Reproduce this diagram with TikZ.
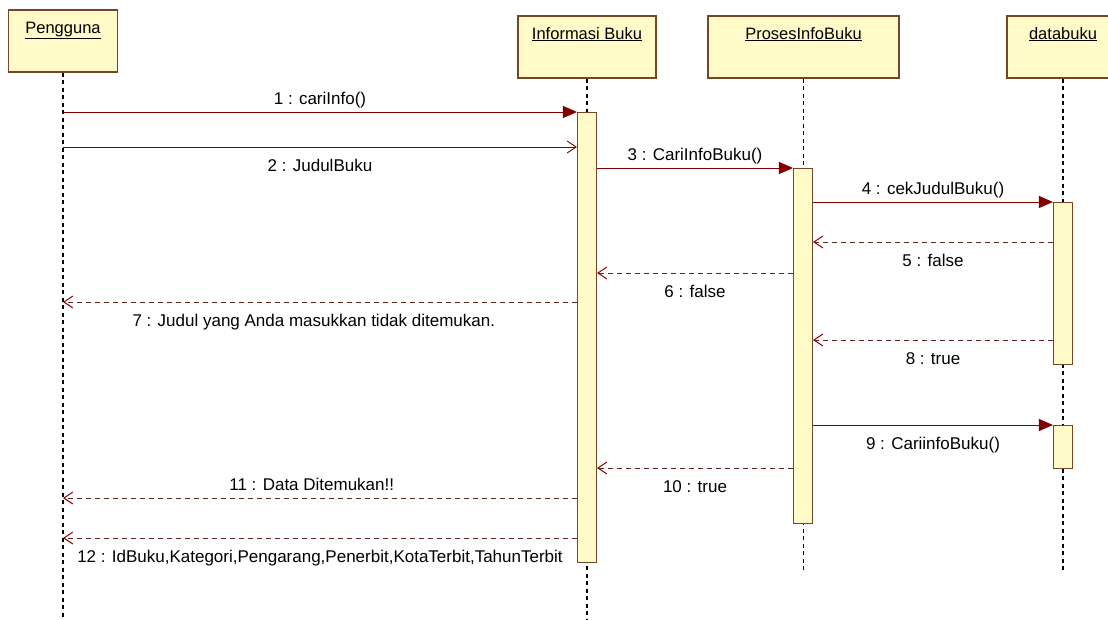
\documentclass[tikz,border=0pt]{standalone}
\usepackage{fontspec}
\setmainfont{Liberation Sans}
\usetikzlibrary{arrows.meta}
\definecolor{umlfill}{RGB}{255,250,200}
\definecolor{umlline}{RGB}{115,70,40}
\definecolor{msgline}{RGB}{128,0,0}
\definecolor{replyline}{RGB}{95,35,30}
\tikzstyle{object} = [draw=umlline, fill=umlfill, line width=1.3pt, inner sep=0pt, text height=23pt, text depth=39pt, font=\fontsize{16.5}{18}\selectfont]
\tikzstyle{bar} = [draw=umlline, fill=umlfill, line width=1.1pt, minimum width=19pt, inner sep=0pt, anchor=north]
\tikzstyle{lifeline} = [black, line width=1.4pt, dash pattern=on 4pt off 3.5pt]
\tikzstyle{call} = [msgline, line width=0.9pt, -{Triangle[length=14pt,width=12pt]}]
\tikzstyle{send} = [msgline, line width=0.9pt, -{Straight Barb[length=9pt,width=12pt]}]
\tikzstyle{reply} = [replyline, line width=1pt, dash pattern=on 5pt off 4pt, -{Straight Barb[length=9pt,width=12pt,msgline]}]
\tikzstyle{msg} = [black, inner sep=0pt, font=\fontsize{17}{19}\selectfont]
\tikzstyle{upper} = [msg, anchor=base, yshift=8pt]
\tikzstyle{lower} = [msg, anchor=base, yshift=-24pt]

\begin{document}
\begin{tikzpicture}[x=1pt,y=-1pt]
	\useasboundingbox (0,0) rectangle (1108,619);
	\clip (0,0) rectangle (1108,619);
	% objects
	\node[object, minimum width=109pt] (p) at (63,41) {\underline{Pengguna}};
	\node[object, minimum width=138pt] (ib) at (587,47) {\underline{Informasi Buku}};
	\node[object, minimum width=191pt] (pb) at (803.5,47) {\underline{ProsesInfoBuku}};
	\node[object, minimum width=112pt] (db) at (1063,47) {\underline{databuku}};
	% lifelines
	\coordinate (pend) at (63,619);
	\coordinate (ibend) at (587,619);
	\coordinate (pbend) at (803.5,570);
	\coordinate (dbend) at (1063,570);
	\draw[lifeline] (p.south) -- (pend);
	\draw[lifeline] (ib.south) -- (ibend);
	\draw[lifeline] (pb.south) -- (pbend);
	\draw[lifeline] (db.south) -- (dbend);
	% activations
	\node[bar, minimum height=450pt] (ib1) at (587,112) {};
	\node[bar, minimum height=355pt] (pb1) at (803,168) {};
	\node[bar, minimum height=162pt] (db1) at (1063,202) {};
	\node[bar, minimum height=43pt] (db2) at (1063,425) {};
	% messages
	\draw[call] (p |- ib1.north) -- (ib1.north west) node[upper, midway] {1 : cariInfo()};
	\draw[send] (p |- 0,147) -- (ib1.west |- 0,147) node[lower, midway] {2 : JudulBuku};
	\draw[call] (ib1.east |- pb1.north) -- (pb1.north west) node[upper, midway] {3 : CariInfoBuku()};
	\draw[call] (pb1.east |- db1.north) -- (db1.north west) node[upper, midway] {4 : cekJudulBuku()};
	\draw[reply] (db1.west |- 0,242) -- (pb1.east |- 0,242) node[lower, midway] {5 : false};
	\draw[reply] (pb1.west |- 0,273) -- (ib1.east |- 0,273) node[lower, midway] {6 : false};
	\draw[reply] (ib1.west |- 0,302) -- (p |- 0,302) node[lower, pos=0.512] {7 : Judul yang Anda masukkan tidak ditemukan.};
	\draw[reply] (db1.west |- 0,340) -- (pb1.east |- 0,340) node[lower, midway] {8 : true};
	\draw[call] (pb1.east |- db2.north) -- (db2.north west) node[lower, midway] {9 : CariinfoBuku()};
	\draw[reply] (pb1.west |- 0,468) -- (ib1.east |- 0,468) node[lower, midway] {10 : true};
	\draw[reply] (ib1.west |- 0,498) -- (p |- 0,498) node[upper, pos=0.516] {11 : Data Ditemukan!!};
	\draw[reply] (ib1.west |- 0,538) -- (p |- 0,538) node[lower, midway] {12 : IdBuku,Kategori,Pengarang,Penerbit,KotaTerbit,TahunTerbit};
\end{tikzpicture}
\end{document}
